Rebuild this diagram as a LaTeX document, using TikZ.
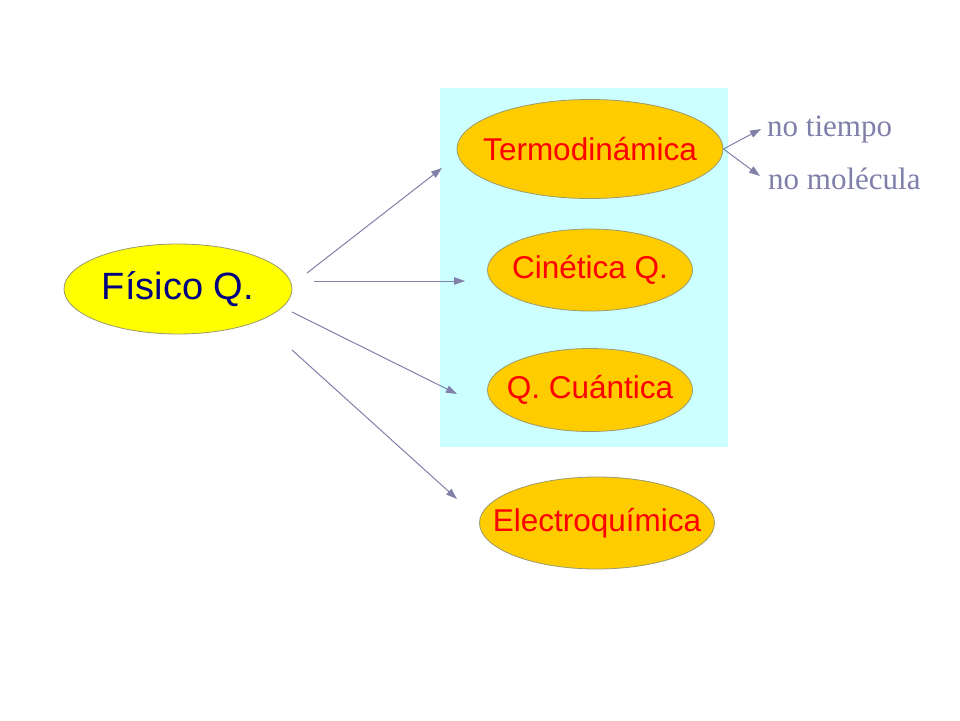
\documentclass[tikz,border=0pt]{standalone}
\usepackage{fontspec}
\setmainfont{Liberation Sans}
\newfontfamily\serifface{Liberation Serif}
\usetikzlibrary{shapes.geometric,arrows.meta}
\definecolor{bgcyan}{HTML}{CCFFFF}
\definecolor{yel}{HTML}{FFFF00}
\definecolor{org}{HTML}{FFCC00}
\definecolor{edge}{HTML}{9A9A70}
\definecolor{arr}{HTML}{8080A8}
\definecolor{navytxt}{HTML}{000080}
\definecolor{lbl}{HTML}{7F7FAA}
\tikzset{
  ell/.style={ellipse, draw=edge, line width=0.8pt, inner sep=0pt},
  topic/.style={ell, fill=org},
  topictxt/.style={text=red, font=\fontsize{31.5}{31.5}\selectfont, inner sep=0pt},
  conn/.style={draw=arr, line width=1pt, -{Triangle[length=11pt,width=7.5pt]}},
  note/.style={anchor=west, text=lbl, font=\serifface\fontsize{31}{31}\selectfont, inner sep=0pt}
}
\begin{document}
\begin{tikzpicture}[x=1pt,y=-1pt]
\useasboundingbox (0,0) rectangle (960,720);
\fill[white] (0,0) rectangle (960,720);
\fill[bgcyan] (440,88) rectangle (728,447);
\node[ell, fill=yel, minimum width=228pt, minimum height=90pt] (fis) at (178,289) {};
\node[text=navytxt, inner sep=0pt, font=\fontsize{38}{38}\selectfont] (fist) at (fis.center) {Físico Q.};
\node[topic, minimum width=266pt, minimum height=99pt] (termo) at (590,149) {};
\node[topictxt] (termot) at (termo.center) {Termodinámica};
\node[topic, minimum width=205pt, minimum height=82pt] (cin) at (590,270) {};
\node[topictxt] (cint) at (cin.center) {Cinética Q.};
\node[topic, minimum width=205pt, minimum height=83pt] (cuan) at (590,390) {};
\node[topictxt] (cuant) at (cuan.center) {Q. Cuántica};
\node[topic, minimum width=235pt, minimum height=92pt] (elec) at (597,523) {};
\node[topictxt] (elect) at (elec.center) {Electroquímica};
\coordinate (s1) at (307,273); \coordinate (e1) at (442,168);
\coordinate (s2) at (314,281); \coordinate (e2) at (465,281);
\coordinate (s3) at (292,312); \coordinate (e3) at (457,394);
\coordinate (s4) at (292,350); \coordinate (e4) at (457,499);
\draw[conn] (s1) -- (e1);
\draw[conn] (s2) -- (e2);
\draw[conn] (s3) -- (e3);
\draw[conn] (s4) -- (e4);
\coordinate (t0) at (termo.east);
\coordinate (t1) at (761,129);
\coordinate (t2) at (760,176);
\draw[conn] (t0) -- (t1);
\draw[conn] (t0) -- (t2);
\node[note] (nt) at (767,130) {no tiempo};
\node[note] (nm) at (768,179) {no molécula};
\end{tikzpicture}
\end{document}
